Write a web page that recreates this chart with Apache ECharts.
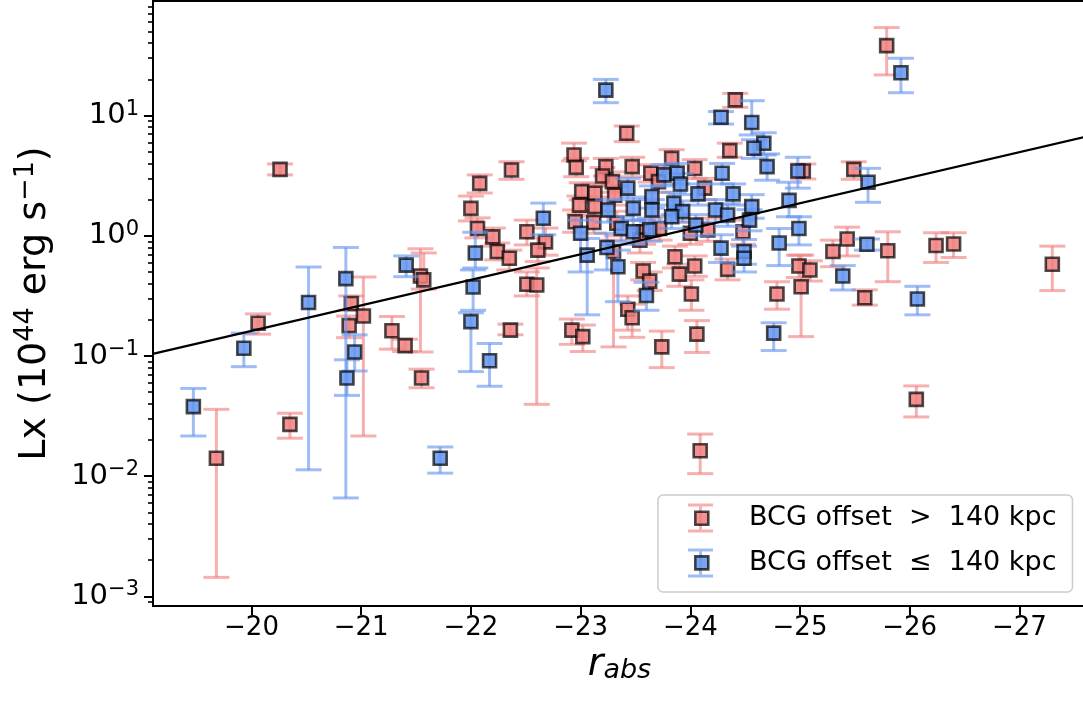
<!DOCTYPE html>
<html><head><meta charset="utf-8">
<script src="https://cdn.jsdelivr.net/npm/echarts@6/dist/echarts.min.js"></script>
<style>html,body{margin:0;padding:0;background:#fff}#c{width:1083px;height:708px}</style>
</head><body><div id="c"></div>
<script>
// ---------- data ----------
const nameRed = 'BCG offset  >  140 kpc';
const nameBlue = 'BCG offset  ≤  140 kpc';

const rRed = [-20.26,-20.06,-20.35,-19.68,-20.91,-20.89,-21.02,-21.28,-21.40,-21.54,
  -21.55,-22.00,-22.08,-22.06,-22.20,-22.24,-22.35,-22.36,-22.37,-22.51,
  -22.68,-22.61,-22.51,-22.60,-22.94,-22.96,-22.92,-23.02,-22.95,-23.01,
  -22.99,-23.13,-23.13,-23.12,-23.23,-23.20,-23.29,-23.31,-23.42,-23.47,
  -23.64,-23.71,-23.83,-24.04,-24.13,-24.36,-24.41,-23.30,-23.57,-23.63,
  -23.43,-23.47,-23.74,-23.86,-23.90,-24.04,-24.01,-24.06,-24.09,-24.34,
  -24.48,-24.16,-24.00,-23.57,-23.72,-23.54,-23.33,-25.03,-25.49,-25.79,
  -25.43,-25.30,-25.80,-26.24,-26.40,-27.30,-24.99,-25.09,-25.01,-24.79,
  -25.59,-26.06,-21.57];
const lxRed = [3.57,0.187,0.027,0.0141,0.273,0.179,0.215,0.162,0.122,0.463,
  0.0656,1.69,2.73,1.15,0.98,0.74,0.65,0.164,3.53,1.08,
  0.89,0.76,0.395,0.39,4.70,3.71,0.164,0.145,1.31,2.33,
  1.80,2.26,1.75,1.29,3.76,3.14,2.82,2.18,7.12,3.76,
  3.31,2.82,4.41,3.63,2.49,5.11,13.5,0.74,0.51,0.42,
  0.245,0.208,0.119,0.67,0.48,0.56,0.328,0.152,0.0163,0.526,
  1.08,1.12,1.05,1.08,1.15,0.92,1.27,3.46,3.57,38.2,
  0.94,0.74,0.75,0.83,0.855,0.58,0.56,0.52,0.377,0.328,
  0.305,0.0436,0.43];
const lxRedLo = [3.21,0.152,0.0207,0.00144,0.24,0.142,0.0216,0.114,0.109,0.108,
  0.0544,1.33,2.27,0.96,0.82,0.63,0.52,0.150,2.95,0.84,
  0.69,0.61,0.316,0.0396,4.2,3.1,0.125,0.109,1.07,1.99,
  1.52,1.9,1.45,1.05,3.14,2.6,2.3,1.8,6.07,3.1,
  2.8,2.3,3.8,3.0,2.0,4.5,11.7,0.119,0.43,0.35,
  0.164,0.143,0.080,0.54,0.38,0.46,0.24,0.107,0.0105,0.43,
  0.85,0.9,0.85,0.85,0.92,0.72,1.0,2.97,2.95,21.8,
  0.68,0.553,0.415,0.60,0.66,0.35,0.45,0.42,0.145,0.245,
  0.265,0.0311,0.36];
const lxRedHi = [3.96,0.224,0.0334,0.036,0.316,0.215,0.454,0.213,0.138,0.78,
  0.0777,2.14,3.21,1.41,1.16,0.87,0.76,0.184,4.13,1.35,
  1.16,0.96,0.50,0.54,5.9,4.4,0.203,0.181,1.64,2.76,
  2.14,2.7,2.1,1.6,4.4,3.7,3.4,2.6,8.19,4.5,
  3.9,3.4,5.2,4.3,3.0,5.9,15.3,0.92,0.60,0.50,
  0.316,0.27,0.161,0.82,0.58,0.68,0.43,0.197,0.0224,0.64,
  1.35,1.4,1.3,1.35,1.45,1.15,1.6,3.96,4.13,54,
  1.18,0.92,1.08,1.06,1.06,0.82,0.69,0.62,0.69,0.415,
  0.355,0.0564,0.72];

const rBlue = [-19.47,-19.93,-20.52,-20.86,-20.87,-20.94,-21.41,-21.72,-22.00,-22.02,
  -22.04,-22.17,-22.66,-23.23,-23.00,-23.06,-23.24,-23.34,-23.60,-23.43,
  -23.76,-23.88,-23.65,-23.85,-23.25,-23.48,-23.65,-23.91,-24.07,-24.29,
  -24.39,-24.28,-24.56,-24.67,-24.58,-24.70,-24.98,-24.90,-24.23,-24.34,
  -24.56,-23.93,-23.37,-23.48,-23.63,-23.83,-24.05,-24.28,-24.49,-24.49,
  -24.54,-24.81,-24.99,-24.76,-25.39,-25.61,-25.62,-25.92,-26.07];
const lxBlue = [0.0379,0.116,0.279,0.44,0.0656,0.108,0.57,0.0141,0.193,0.375,
  0.72,0.0914,1.40,16.3,1.05,0.69,0.80,0.553,0.319,2.49,
  3.21,3.31,2.12,1.86,1.64,1.69,1.64,2.70,2.23,3.31,
  2.23,9.68,8.75,5.88,5.35,3.76,3.46,1.97,1.64,1.49,
  1.75,1.59,1.15,1.08,1.12,1.44,1.23,0.79,0.74,0.65,
  1.35,0.87,1.15,0.155,0.463,0.85,2.79,22.7,0.298];
const lxBlueLo = [0.0216,0.0815,0.0113,0.00659,0.047,0.075,0.457,0.0106,0.0742,0.24,
  0.54,0.056,1.02,12.8,0.5,0.22,0.52,0.283,0.24,2.0,
  2.6,2.7,1.7,1.5,1.3,1.35,1.3,2.2,1.8,2.7,
  1.8,8.51,6.9,4.7,4.4,2.9,2.49,1.44,1.3,1.2,
  1.4,1.3,0.9,0.85,0.9,1.15,1.0,0.6,0.58,0.5,
  1.1,0.565,0.84,0.111,0.354,0.76,1.90,15.5,0.22];
const lxBlueHi = [0.0537,0.155,0.55,0.80,0.093,0.150,0.68,0.0175,0.229,0.52,
  1.07,0.127,1.87,20.0,1.35,0.95,1.05,0.76,0.41,3.0,
  3.9,4.0,2.6,2.3,2.0,2.1,2.0,3.3,2.7,4.0,
  2.7,10.8,13.3,7.2,6.3,4.8,4.50,2.79,2.0,1.85,
  2.2,1.95,1.45,1.35,1.4,1.8,1.5,1.02,0.93,0.82,
  1.65,1.15,1.44,0.189,0.565,0.94,3.64,30.0,0.38];

// best-fit line end points
const fitR = [-19.10, -27.61];
const fitLx = [0.104, 6.70];

// ticks
const xTicks = [-20, -21, -22, -23, -24, -25, -26, -27];
const yMajorTicks = [0.001, 0.01, 0.1, 1, 10];
const yMinorTicks = [0.0009, 0.002, 0.003, 0.004, 0.005, 0.006, 0.007, 0.008, 0.009,
  0.02, 0.03, 0.04, 0.05, 0.06, 0.07, 0.08, 0.09,
  0.2, 0.3, 0.4, 0.5, 0.6, 0.7, 0.8, 0.9,
  2, 3, 4, 5, 6, 7, 8, 9, 20, 30, 40, 50, 60, 70, 80];

// ---------- chart ----------
const FONT = 'DejaVu Sans';
const X_MIN = -27.607, X_MAX = -19.102;
const Y_MIN = 0.000832, Y_MAX = 89.8;

const redFace = 'rgba(240,128,128,0.85)', redBar = 'rgba(240,128,128,0.62)';
const blueFace = 'rgba(100,149,237,0.85)', blueBar = 'rgba(100,149,237,0.62)';
const edge = 'rgba(0,0,0,0.7)';

function ebData(r, lo, hi) { return r.map((x, i) => [x, lo[i], hi[i]]); }
function ptData(r, l) { return r.map((x, i) => [x, l[i]]); }
function errRender(color) {
  return function (params, api) {
    const x = api.value(0);
    const pLo = api.coord([x, api.value(1)]);
    const pHi = api.coord([x, api.value(2)]);
    const cap = 13;
    const style = { stroke: color, lineWidth: 3, fill: null };
    return { type: 'group', children: [
      { type: 'line', shape: { x1: pLo[0], y1: pLo[1], x2: pHi[0], y2: pHi[1] }, style: style },
      { type: 'line', shape: { x1: pLo[0] - cap, y1: pLo[1], x2: pLo[0] + cap, y2: pLo[1] }, style: style },
      { type: 'line', shape: { x1: pHi[0] - cap, y1: pHi[1], x2: pHi[0] + cap, y2: pHi[1] }, style: style }
    ]};
  };
}
function expLabel(v) {
  const e = Math.round(Math.log10(v));
  return '{b|10}{e|' + (e < 0 ? '\u2212' + (-e) : String(e)) + '}';
}

const chart = echarts.init(document.getElementById('c'), null, { renderer: 'canvas' });
const ebIcon = 'path://M0,0H26V3H14.5V27H26V30H0V27H11.5V3H0Z';

chart.setOption({
  animation: false,
  backgroundColor: '#ffffff',
  textStyle: { fontFamily: FONT },
  grid: {
    left: 153, right: -3, top: 1, bottom: 102,
    show: true, borderColor: '#000', borderWidth: 2, backgroundColor: 'transparent',
    containLabel: false, outerBoundsMode: 'none'
  },
  legend: [
    {
      left: 658, top: 495, orient: 'vertical',
      itemWidth: 25, itemHeight: 30, itemGap: 15,
      padding: [8, 16, 14, 30],
      backgroundColor: 'rgba(255,255,255,0.8)', borderColor: '#cccccc', borderWidth: 1.5, borderRadius: 5,
      textStyle: { fontFamily: FONT, fontSize: 27, color: '#000', lineHeight: 30, padding: [0, 0, 0, 31] },
      selectedMode: false,
      data: [
        { name: nameRed, icon: ebIcon, itemStyle: { color: redBar, borderWidth: 0 } },
        { name: nameBlue, icon: ebIcon, itemStyle: { color: blueBar, borderWidth: 0 } }
      ],
      z: 20
    },
    {
      left: 694, top: 510.5, orient: 'vertical',
      itemWidth: 13, itemHeight: 13, itemGap: 29, padding: 0,
      formatter: function () { return ''; },
      textStyle: { fontSize: 1, lineHeight: 1 },
      selectedMode: false,
      data: [
        { name: nameRed, icon: 'rect', itemStyle: { color: redFace, borderColor: edge, borderWidth: 2.6 } },
        { name: nameBlue, icon: 'rect', itemStyle: { color: blueFace, borderColor: edge, borderWidth: 2.6 } }
      ],
      z: 21
    }
  ],
  xAxis: {
    type: 'value', min: X_MIN, max: X_MAX, inverse: true,
    axisLine: { show: true, onZero: false, lineStyle: { color: '#000', width: 2 } },
    axisTick: { show: true, customValues: xTicks, length: 9, lineStyle: { color: '#000', width: 2 } },
    axisLabel: {
      customValues: xTicks, margin: 9, fontFamily: FONT, fontSize: 26, color: '#000',
      formatter: function (v) { return '\u2212' + Math.abs(v); }
    },
    splitLine: { show: false },
    name: '{r|r}{s|abs}', nameLocation: 'middle', nameGap: 31,
    nameTextStyle: {
      rich: {
        r: { fontFamily: FONT, fontStyle: 'italic', fontSize: 38, lineHeight: 40, color: '#000' },
        s: { fontFamily: FONT, fontStyle: 'italic', fontSize: 27, lineHeight: 19, verticalAlign: 'bottom', color: '#000' }
      }
    }
  },
  yAxis: [
    {
      type: 'log', logBase: 10, min: Y_MIN, max: Y_MAX,
      axisLine: { show: true, onZero: false, lineStyle: { color: '#000', width: 2 } },
      axisTick: { show: true, customValues: yMajorTicks, length: 9, lineStyle: { color: '#000', width: 2 } },
      axisLabel: {
        customValues: yMajorTicks, margin: 14, formatter: expLabel,
        rich: {
          b: { fontFamily: FONT, fontSize: 29, lineHeight: 34, color: '#000' },
          e: { fontFamily: FONT, fontSize: 21, lineHeight: 21, verticalAlign: 'top', color: '#000' }
        }
      },
      splitLine: { show: false },
      minorTick: { show: false },
      name: '{n|Lx (10}{s|44}{n| erg s}{s|\u22121}{n|)}', nameLocation: 'middle', nameGap: 95,
      nameTextStyle: {
        rich: {
          n: { fontFamily: FONT, fontSize: 38, lineHeight: 46, color: '#000' },
          s: { fontFamily: FONT, fontSize: 27, lineHeight: 27, verticalAlign: 'top', color: '#000' }
        }
      }
    },
    {
      type: 'log', logBase: 10, min: Y_MIN, max: Y_MAX, position: 'left',
      axisLine: { show: false },
      axisTick: { show: true, customValues: yMinorTicks, length: 5, lineStyle: { color: '#000', width: 1.6 } },
      axisLabel: { show: false },
      splitLine: { show: false }
    }
  ],
  series: [
    { type: 'custom', name: nameRed, renderItem: errRender(redBar), data: ebData(rRed, lxRedLo, lxRedHi),
      encode: { x: 0, y: [1, 2] }, itemStyle: { color: redBar }, z: 2, clip: true, silent: true },
    { type: 'scatter', name: nameRed, data: ptData(rRed, lxRed), symbol: 'rect', symbolSize: 13,
      itemStyle: { color: redFace, borderColor: edge, borderWidth: 2.6, opacity: 1 }, z: 3, clip: true, silent: true },
    { type: 'custom', name: nameBlue, renderItem: errRender(blueBar), data: ebData(rBlue, lxBlueLo, lxBlueHi),
      encode: { x: 0, y: [1, 2] }, itemStyle: { color: blueBar }, z: 4, clip: true, silent: true },
    { type: 'scatter', name: nameBlue, data: ptData(rBlue, lxBlue), symbol: 'rect', symbolSize: 13,
      itemStyle: { color: blueFace, borderColor: edge, borderWidth: 2.6, opacity: 1 }, z: 5, clip: true, silent: true },
    { type: 'line', name: 'fit', data: ptData(fitR, fitLx), symbol: 'none', silent: true,
      lineStyle: { color: '#000', width: 2.2 }, z: 6, clip: true }
  ]
});
</script>
</body></html>
